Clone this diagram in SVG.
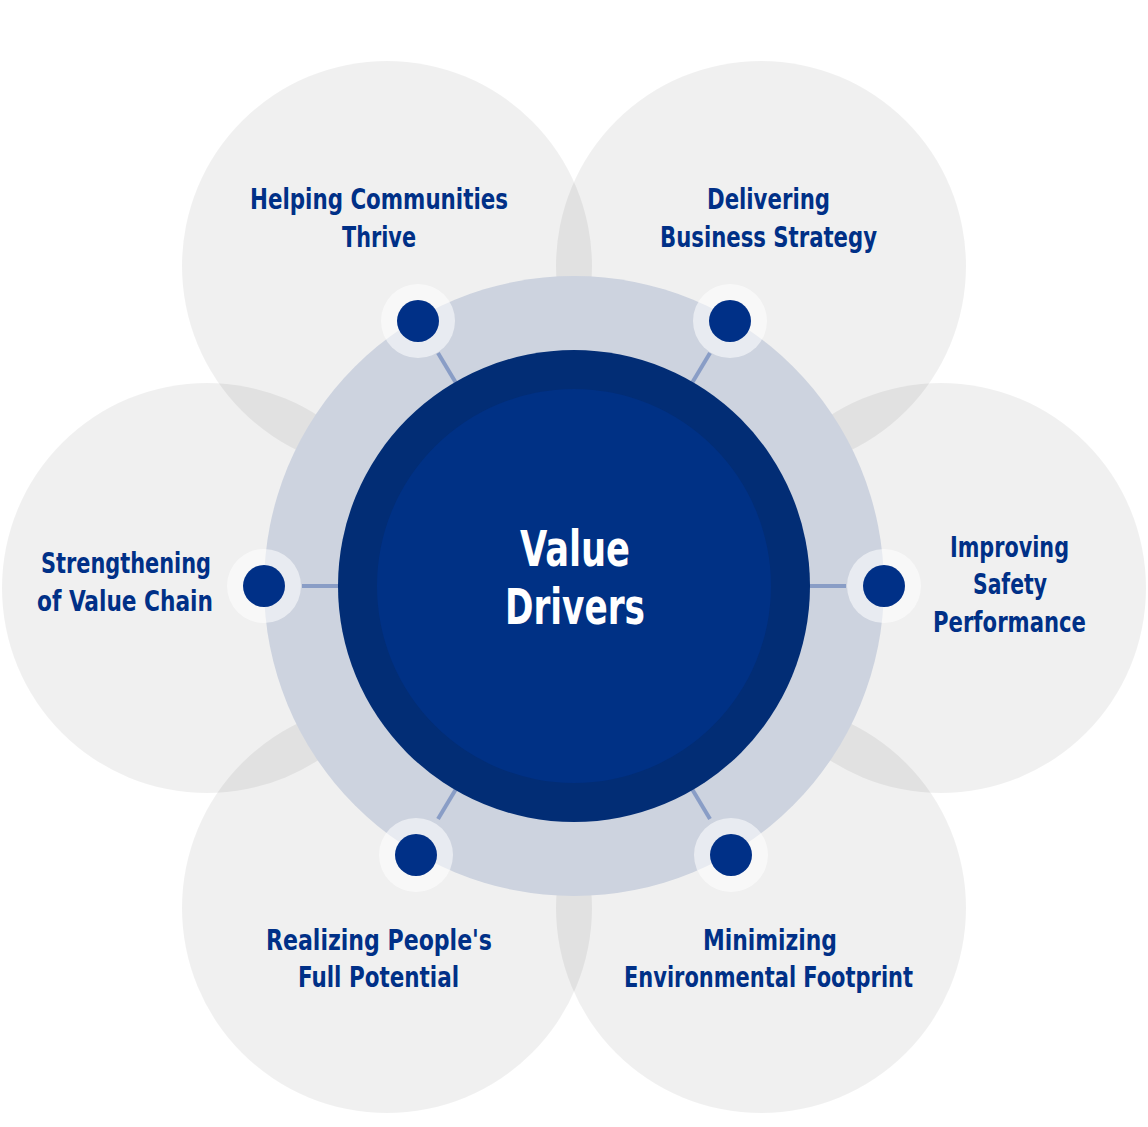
<svg xmlns="http://www.w3.org/2000/svg" width="1148" height="1127" viewBox="0 0 1148 1127">
<style>
.outer{fill:#000;fill-opacity:0.06}
.lbl{font-family:"DejaVu Sans Condensed","Liberation Sans",sans-serif;font-weight:bold;font-size:28px;fill:#003087;text-anchor:middle}
.ctr{font-family:"DejaVu Sans Condensed","Liberation Sans",sans-serif;font-weight:bold;font-size:49px;fill:#ffffff;text-anchor:middle}
.halo{fill:#fff;fill-opacity:0.55}
.dot{fill:#003087}
.conn{stroke:#7d93c2;stroke-width:4;stroke-opacity:0.85}
</style>
<rect width="1148" height="1127" fill="#fff"/>
<g id="outer-circles">
<circle class="outer" cx="387" cy="266" r="205"/>
<circle class="outer" cx="761" cy="266" r="205"/>
<circle class="outer" cx="207" cy="588" r="205"/>
<circle class="outer" cx="941" cy="588" r="205"/>
<circle class="outer" cx="387" cy="908" r="205"/>
<circle class="outer" cx="761" cy="908" r="205"/>
</g>
<g id="ring"><circle cx="574" cy="586" r="310" fill="#cdd3df"/></g>
<g id="connectors">
<line class="conn" x1="438" y1="353" x2="456" y2="383"/>
<line class="conn" x1="710" y1="353" x2="692" y2="383"/>
<line class="conn" x1="302" y1="586" x2="338" y2="586"/>
<line class="conn" x1="846" y1="586" x2="810" y2="586"/>
<line class="conn" x1="438" y1="819" x2="456" y2="789"/>
<line class="conn" x1="710" y1="819" x2="692" y2="789"/>
</g>
<g id="center">
<circle cx="574" cy="586" r="236" fill="#022d75"/>
<circle cx="574" cy="586" r="197" fill="#003185"/>
<text class="ctr" x="575" y="566" textLength="110" lengthAdjust="spacingAndGlyphs">Value</text>
<text class="ctr" x="575" y="624" textLength="140" lengthAdjust="spacingAndGlyphs">Drivers</text>
</g>
<g id="node-communities">
<circle class="halo" cx="418" cy="321" r="37"/><circle class="dot" cx="418" cy="321" r="21"/>
<text class="lbl" x="379" y="209" textLength="258" lengthAdjust="spacingAndGlyphs">Helping Communities</text>
<text class="lbl" x="379" y="247" textLength="74" lengthAdjust="spacingAndGlyphs">Thrive</text>
</g>
<g id="node-strategy">
<circle class="halo" cx="730" cy="321" r="37"/><circle class="dot" cx="730" cy="321" r="21"/>
<text class="lbl" x="768.5" y="209" textLength="123" lengthAdjust="spacingAndGlyphs">Delivering</text>
<text class="lbl" x="768.5" y="247" textLength="217" lengthAdjust="spacingAndGlyphs">Business Strategy</text>
</g>
<g id="node-value-chain">
<circle class="halo" cx="264" cy="586" r="37"/><circle class="dot" cx="264" cy="586" r="21"/>
<text class="lbl" x="126" y="573" textLength="170" lengthAdjust="spacingAndGlyphs">Strengthening</text>
<text class="lbl" x="125" y="611" textLength="176" lengthAdjust="spacingAndGlyphs">of Value Chain</text>
</g>
<g id="node-safety">
<circle class="halo" cx="884" cy="586" r="37"/><circle class="dot" cx="884" cy="586" r="21"/>
<text class="lbl" x="1009.5" y="557" textLength="119" lengthAdjust="spacingAndGlyphs">Improving</text>
<text class="lbl" x="1010" y="594" textLength="74" lengthAdjust="spacingAndGlyphs">Safety</text>
<text class="lbl" x="1009.5" y="632" textLength="153" lengthAdjust="spacingAndGlyphs">Performance</text>
</g>
<g id="node-people">
<circle class="halo" cx="416" cy="855" r="37"/><circle class="dot" cx="416" cy="855" r="21"/>
<text class="lbl" x="379" y="950" textLength="226" lengthAdjust="spacingAndGlyphs">Realizing People's</text>
<text class="lbl" x="378.5" y="987" textLength="161" lengthAdjust="spacingAndGlyphs">Full Potential</text>
</g>
<g id="node-environment">
<circle class="halo" cx="731" cy="855" r="37"/><circle class="dot" cx="731" cy="855" r="21"/>
<text class="lbl" x="770" y="950" textLength="134" lengthAdjust="spacingAndGlyphs">Minimizing</text>
<text class="lbl" x="768.5" y="987" textLength="289" lengthAdjust="spacingAndGlyphs">Environmental Footprint</text>
</g>
</svg>
